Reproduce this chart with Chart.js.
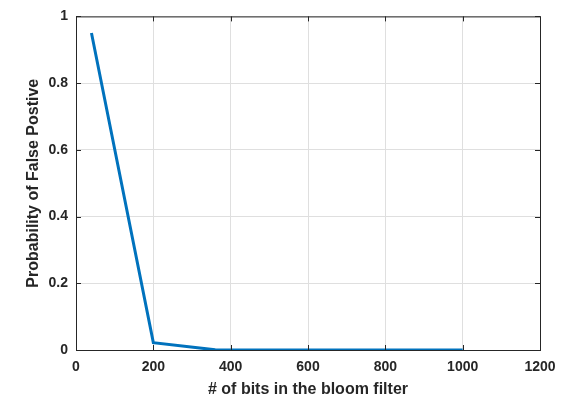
<!DOCTYPE html>
<html>
<head>
<meta charset="utf-8">
<script src="https://cdn.jsdelivr.net/npm/chart.js@4/dist/chart.umd.min.js"></script>
<style>
  html, body { margin: 0; padding: 0; background: #fff; }
  #wrap { width: 569px; height: 398px; }
</style>
</head>
<body>
<div id="wrap"><canvas id="fpChart" width="569" height="398"></canvas></div>
<script>
// ─── DATA ──────────────────────────────────────────────────
const bits = [40, 200, 360, 520, 680, 840, 1000];
const falsePositive = [0.95, 0.022, 0.0006, 0.00002, 0.000001, 0.0000001, 0.00000001];
const xTicks = [0, 200, 400, 600, 800, 1000, 1200];
const yTicks = [0, 0.2, 0.4, 0.6, 0.8, 1];

const AXIS_COLOR = '#262626';
const FONT = { family: 'Liberation Sans, Arial, sans-serif', size: 14, weight: 'bold' };
const TITLE_FONT = { family: 'Liberation Sans, Arial, sans-serif', size: 16, weight: 'bold' };

// ─── BOX + INWARD TICKS (matlab style) ─────────────────────
const boxPlugin = {
  id: 'box',
  afterDraw(chart) {
    const { ctx, chartArea: a, scales } = chart;
    ctx.save();
    ctx.strokeStyle = AXIS_COLOR;
    ctx.lineWidth = 1;
    ctx.strokeRect(a.left + 0.5, a.top + 0.5, a.right - a.left, a.bottom - a.top);
    const len = 5;
    ctx.beginPath();
    xTicks.forEach(v => {
      const px = Math.round(scales.x.getPixelForValue(v)) + 0.5;
      ctx.moveTo(px, a.bottom); ctx.lineTo(px, a.bottom - len);
      ctx.moveTo(px, a.top); ctx.lineTo(px, a.top + len);
    });
    yTicks.forEach(v => {
      const py = Math.round(scales.y.getPixelForValue(v)) + 0.5;
      ctx.moveTo(a.left, py); ctx.lineTo(a.left + len, py);
      ctx.moveTo(a.right, py); ctx.lineTo(a.right - len, py);
    });
    ctx.stroke();
    ctx.restore();
  }
};

const ctx = document.getElementById('fpChart').getContext('2d');
new Chart(ctx, {
  type: 'line',
  data: {
    datasets: [{
      data: bits.map((b, i) => ({ x: b, y: falsePositive[i] })),
      borderColor: '#0072BD',
      borderWidth: 3,
      pointRadius: 0,
      tension: 0,
      fill: false
    }]
  },
  options: {
    responsive: false,
    animation: false,
    layout: { padding: { left: 0, top: 14, right: 29, bottom: 0 } },
    plugins: { legend: { display: false }, tooltip: { enabled: false } },
    scales: {
      x: {
        type: 'linear',
        min: 0, max: 1200,
        afterBuildTicks: s => { s.ticks = xTicks.map(v => ({ value: v })); },
        afterFit: s => { s.height = 48; },
        ticks: { color: AXIS_COLOR, font: FONT, padding: 9, maxRotation: 0, callback: v => String(v) },
        grid: { color: '#dfdfdf', tickLength: 0, drawTicks: false },
        border: { display: false },
        title: { display: true, text: '# of bits in the bloom filter', color: AXIS_COLOR, font: { ...TITLE_FONT, lineHeight: 1.0 }, padding: { top: 0, bottom: 0 } }
      },
      y: {
        min: 0, max: 1,
        afterBuildTicks: s => { s.ticks = yTicks.map(v => ({ value: v })); },
        afterFit: s => { s.width = 76; },
        ticks: { color: AXIS_COLOR, font: FONT, padding: 8, callback: v => String(Math.round(v * 10) / 10) },
        grid: { color: '#dfdfdf', tickLength: 0, drawTicks: false },
        border: { display: false },
        title: { display: true, text: 'Probability of False Postive', color: AXIS_COLOR, font: TITLE_FONT, padding: { top: 24, bottom: 0 } }
      }
    }
  },
  plugins: [boxPlugin]
});
</script>
</body>
</html>
